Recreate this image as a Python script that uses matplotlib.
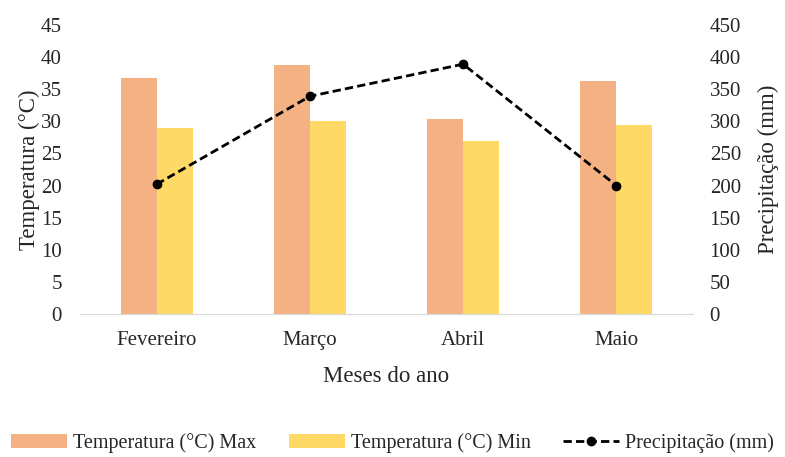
import matplotlib.pyplot as plt
import numpy as np

plt.rcParams['font.family'] = ['Liberation Serif', 'DejaVu Serif']

meses = ['Fevereiro', 'Março', 'Abril', 'Maio']
temp_max = [36.8, 38.7, 30.3, 36.3]
temp_min = [29.0, 30.1, 27.0, 29.4]
precip = [202, 339, 389, 200]

x = np.arange(len(meses))
w = 0.235
txt = '#262626'

fig = plt.figure(figsize=(7.85, 4.57), dpi=100)
ax = fig.add_axes([80 / 785, 1 - 314 / 457, 613 / 785, 289 / 457])
ax2 = ax.twinx()

ax.bar(x - w / 2, temp_max, w, color='#F4B183', label='Temperatura (°C) Max', zorder=2)
ax.bar(x + w / 2, temp_min, w, color='#FFD966', label='Temperatura (°C) Min', zorder=2)
ax2.plot(x, precip, '--o', color='black', lw=2, ms=6, dashes=(3, 1.5),
         label='Precipitação (mm)', zorder=3)

ax.set_xlim(-0.5, 3.5)
ax.set_ylim(0, 45)
ax2.set_ylim(0, 450)
ax.set_yticks(np.arange(0, 46, 5))
ax2.set_yticks(np.arange(0, 451, 50))
ax.set_xticks(x)
ax.set_xticklabels(meses)

for a in (ax, ax2):
    for s in ('top', 'left', 'right'):
        a.spines[s].set_visible(False)
    a.spines['bottom'].set_color('#D9D9D9')
    a.tick_params(length=0, labelsize=15, colors=txt)
ax.tick_params(axis='y', pad=13)
ax2.tick_params(axis='y', pad=12)
ax.tick_params(axis='x', pad=12)

ax.set_ylabel('Temperatura (°C)', fontsize=16.5, color=txt, labelpad=1)
ax2.set_ylabel('Precipitação (mm)', fontsize=16.5, color=txt, labelpad=12)
ax.set_xlabel('Meses do ano', fontsize=16.5, color=txt, labelpad=12)

h1, l1 = ax.get_legend_handles_labels()
h2, l2 = ax2.get_legend_handles_labels()
fig.legend(h1 + h2, l1 + l2, loc='center', bbox_to_anchor=(0.5, 1 - 443 / 457),
           ncol=3, frameon=False, fontsize=14.5, handlelength=2.8, columnspacing=1.6,
           handletextpad=0.3, labelcolor=txt)

fig.savefig('out.png', dpi=100)
